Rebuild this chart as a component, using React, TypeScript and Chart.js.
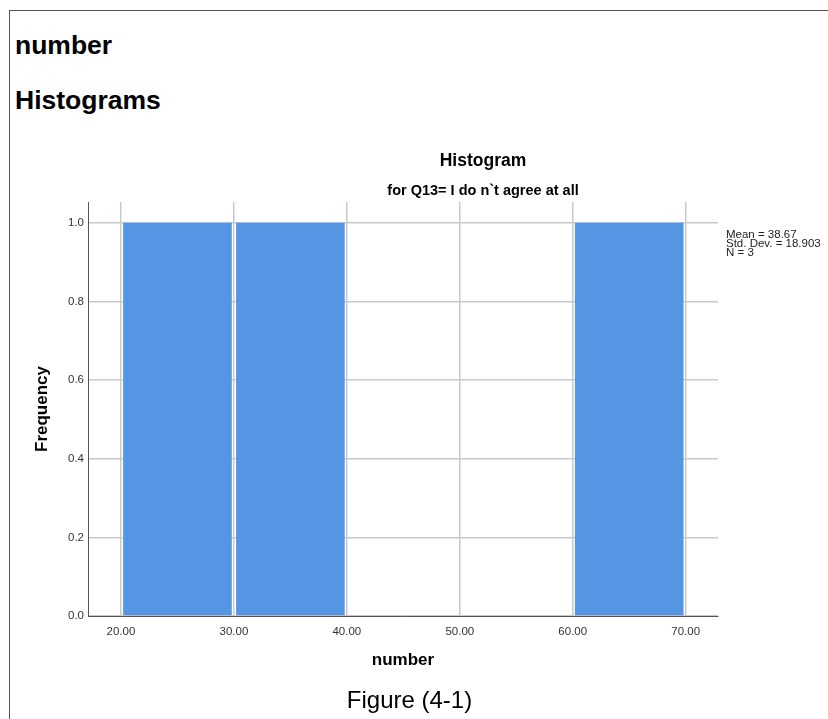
import React, { useEffect, useRef } from "react";
import { Chart, registerables } from "chart.js";

Chart.register(...registerables);

// ---- data ----
const binStarts = [20, 30, 40, 50, 60];
const binWidth = 10;
const frequencies = [1, 1, 0, 0, 1];
const xTicks = [20, 30, 40, 50, 60, 70];
const yTicks = [0, 0.2, 0.4, 0.6, 0.8, 1.0];
const statsLines = ["Mean = 38.67", "Std. Dev. = 18.903", "N = 3"];
const chartTitle = "Histogram";
const chartSubtitle = "for Q13= I do n`t agree at all";
const xTitle = "number";
const yTitle = "Frequency";
const caption = "Figure (4-1)";
const headings = ["number", "Histograms"];

const FONT = '"Liberation Sans", Arial, Helvetica, sans-serif';

const textPlugin = {
  id: "spssText",
  afterDraw(chart: any) {
    const { ctx, chartArea } = chart;
    const L = chartArea.left;
    const T = chartArea.top;
    ctx.save();
    ctx.fillStyle = "#000";
    ctx.textAlign = "center";
    ctx.textBaseline = "alphabetic";
    ctx.font = `bold 17.5px ${FONT}`;
    ctx.fillText(chartTitle, L + 395, T - 36);
    ctx.font = `bold 14.5px ${FONT}`;
    ctx.fillText(chartSubtitle, L + 395, T - 7.5);
    // stats
    ctx.textAlign = "left";
    ctx.fillStyle = "#222";
    ctx.font = `11.5px ${FONT}`;
    statsLines.forEach((s, i) => {
      ctx.fillText(s, chartArea.right + 8, T + 35.5 + i * 9);
    });
    // caption
    ctx.textAlign = "center";
    ctx.fillStyle = "#000";
    ctx.font = `24px ${FONT}`;
    ctx.fillText(caption, L + 321.5, chartArea.bottom + 92);
    ctx.restore();
  },
};

export default function App() {
  const canvasRef = useRef<HTMLCanvasElement | null>(null);

  useEffect(() => {
    const canvas = canvasRef.current;
    if (!canvas) return;
    const data = binStarts.map((s, i) => ({ x: s + binWidth / 2, y: frequencies[i] }));
    const chart = new Chart(canvas, {
      type: "bar",
      data: {
        datasets: [
          {
            data: data as any,
            backgroundColor: "rgb(85,150,228)",
            borderWidth: 0,
            barPercentage: 0.962,
            categoryPercentage: 1,
          },
        ],
      },
      options: {
        responsive: false,
        animation: false,
        devicePixelRatio: 1,
        layout: { padding: { left: 0, right: 110, top: 72, bottom: 0 } },
        plugins: {
          legend: { display: false },
          tooltip: { enabled: false },
          title: { display: false },
        },
        scales: {
          x: {
            type: "linear",
            offset: false,
            min: 17.08,
            max: 72.86,
            afterFit: (scale: any) => {
              scale.height = 103;
            },
            afterBuildTicks: (scale: any) => {
              scale.ticks = xTicks.map((v) => ({ value: v }));
            },
            ticks: {
              padding: 9,
              color: "#333",
              font: { family: FONT, size: 11.5 },
              callback: (v: any) => Number(v).toFixed(2),
              maxRotation: 0,
              autoSkip: false,
            },
            grid: {
              offset: false,
              drawTicks: false,
              color: "#c9c9c9",
              lineWidth: 1.5,
            },
            border: { display: true, color: "#555", width: 1 },
            title: {
              display: true,
              text: xTitle,
              color: "#000",
              font: { family: FONT, size: 17, weight: "bold" },
              padding: { top: 0, bottom: 48 },
            },
          },
          y: {
            type: "linear",
            min: 0,
            max: 1.053,
            afterFit: (scale: any) => {
              scale.width = 88;
            },
            afterBuildTicks: (scale: any) => {
              scale.ticks = yTicks.map((v) => ({ value: v }));
            },
            ticks: {
              padding: 4,
              color: "#333",
              font: { family: FONT, size: 11.5 },
              callback: (v: any) => Number(v).toFixed(1),
              autoSkip: false,
            },
            grid: {
              drawTicks: false,
              color: "#c9c9c9",
              lineWidth: 1.5,
            },
            border: { display: true, color: "#555", width: 1 },
            title: {
              display: true,
              text: yTitle,
              color: "#000",
              font: { family: FONT, size: 17, weight: "bold" },
              padding: { top: 32, bottom: 0 },
            },
          },
        },
      } as any,
      plugins: [textPlugin],
    });
    return () => chart.destroy();
  }, []);

  return (
    <div
      style={{
        position: "absolute",
        left: 0,
        top: 0,
        width: 828,
        height: 719,
        overflow: "hidden",
        background: "#fff",
        fontFamily: FONT,
      }}
    >
      <div
        style={{
          position: "absolute",
          left: 9,
          top: 10,
          width: 900,
          height: 800,
          borderTop: "1.5px solid #555",
          borderLeft: "1.5px solid #555",
        }}
      />
      <div
        style={{
          position: "absolute",
          left: 15,
          top: 32,
          fontSize: 26.5,
          fontWeight: "bold",
          lineHeight: "26.5px",
          color: "#000",
          whiteSpace: "nowrap",
        }}
      >
        {headings[0]}
      </div>
      <div
        style={{
          position: "absolute",
          left: 15,
          top: 87,
          fontSize: 26.5,
          fontWeight: "bold",
          lineHeight: "26.5px",
          color: "#000",
          whiteSpace: "nowrap",
        }}
      >
        {headings[1]}
      </div>
      <canvas
        ref={canvasRef}
        width={828}
        height={589}
        style={{ position: "absolute", left: 0, top: 130, width: 828, height: 589 }}
      />
    </div>
  );
}
